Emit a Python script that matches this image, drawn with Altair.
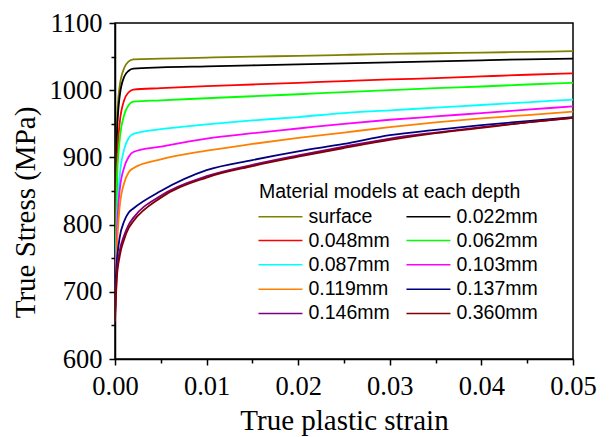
import altair as alt
import pandas as pd

strain = [0.0, 0.0002, 0.0005, 0.001, 0.0015, 0.002, 0.005, 0.01, 0.015, 0.02,
          0.025, 0.03, 0.035, 0.04, 0.045, 0.05]

labels = ["surface", "0.022mm", "0.048mm", "0.062mm", "0.087mm",
          "0.103mm", "0.119mm", "0.137mm", "0.146mm", "0.360mm"]
colors = ["#808000", "#000000", "#FF0000", "#00FF00", "#00FFFF",
          "#FF00FF", "#FF8000", "#000080", "#800080", "#800000"]

surface = [660, 950, 1005, 1033, 1043, 1046, 1047, 1048.5, 1050, 1051, 1052.5, 1054, 1055, 1056, 1057, 1058]
d022 = [660, 930, 990, 1020, 1029, 1032, 1034, 1035.5, 1037, 1038.5, 1040, 1041.5, 1043, 1044.5, 1046, 1047]
d048 = [660, 880, 950, 985, 997, 1001, 1003, 1006, 1008.5, 1011, 1013.5, 1016, 1018, 1020.5, 1023, 1025]
d062 = [660, 860, 925, 963, 978, 983, 985, 988, 991, 994, 997, 1000, 1003, 1005.5, 1008.5, 1011]
d087 = [660, 800, 870, 912, 929, 935, 942, 949, 955, 960, 966, 970, 974, 978, 982, 986]
d103 = [660, 780, 850, 885, 901, 908, 916, 928, 936, 943, 950, 956, 961, 966, 971, 976]
d119 = [660, 760, 825, 862, 878, 884, 897, 910, 920, 929, 937, 945, 952, 958, 963, 968]
d137 = [700, 745, 780, 805, 818, 824, 850, 881, 896, 909, 920, 933, 941, 948, 954, 960]
d146 = [665, 728, 760, 784, 800, 810, 843, 872, 889, 903, 916, 928, 937, 945, 952, 959]
d360 = [655, 720, 752, 778, 795, 805, 840, 870, 887, 901, 914, 926, 936, 944, 952, 959]

series = [surface, d022, d048, d062, d087, d103, d119, d137, d146, d360]

y_major = [600, 700, 800, 900, 1000, 1100]
y_minor = [650, 750, 850, 950, 1050]
x_major = [0.0, 0.01, 0.02, 0.03, 0.04, 0.05]
x_minor = [0.005, 0.015, 0.025, 0.035, 0.045]

rows = []
for lab, vals in zip(labels, series):
    for s, v in zip(strain, vals):
        rows.append({"strain": s, "stress": v, "depth": lab})
df = pd.DataFrame(rows)

serif = "Liberation Serif"
sans = "Liberation Sans"

xscale = alt.Scale(domain=[0, 0.05], nice=False, zero=False)
yscale = alt.Scale(domain=[600, 1100], nice=False, zero=False)

lines = alt.Chart(df).mark_line(strokeWidth=1.8, interpolate="monotone", clip=True).encode(
    x=alt.X("strain:Q", scale=xscale,
            axis=alt.Axis(values=x_major, format=".2f", title="True plastic strain",
                          labelFont=serif, labelFontSize=26.5, labelColor="black",
                          labelFlush=False, labelOverlap=False,
                          titleFont=serif, titleFontSize=29, titleFontWeight="normal",
                          titleColor="black", titlePadding=7, labelPadding=8,
                          tickSize=6, tickWidth=1.5, tickColor="black",
                          domainColor="black", domainWidth=1.5, grid=False)),
    y=alt.Y("stress:Q", scale=yscale,
            axis=alt.Axis(values=y_major, format="d", title="True Stress (MPa)",
                          labelFont=serif, labelFontSize=26.5, labelColor="black",
                          labelFlush=False, labelOverlap=False,
                          titleFont=serif, titleFontSize=29, titleFontWeight="normal",
                          titleColor="black", titleX=-81, titleY=189,
                          titleBaseline="alphabetic", titleAngle=270,
                          labelPadding=7, tickSize=6, tickWidth=1.5, tickColor="black",
                          domainColor="black", domainWidth=1.5, grid=False)),
    color=alt.Color("depth:N", sort=labels,
                    scale=alt.Scale(domain=labels, range=colors),
                    legend=alt.Legend(title="Material models at each depth",
                                      orient="none", legendX=144, legendY=160,
                                      direction="horizontal",
                                      columns=2, symbolType="M-3,0H3",
                                      symbolSize=215, symbolStrokeWidth=1.5,
                                      symbolOffset=11.7,
                                      labelFont=sans, labelFontSize=19.5, labelColor="black",
                                      labelLimit=200, titleLimit=400,
                                      titleFont=sans, titleFontSize=19.5,
                                      titleFontWeight="normal", titleColor="black",
                                      columnPadding=13, rowPadding=3.3, labelOffset=18.3,
                                      titlePadding=4, padding=0)),
    order=alt.Order("strain:Q"),
)

minor_x = alt.Chart(pd.DataFrame({"v": x_minor})).mark_point(opacity=0).encode(
    x=alt.X("v:Q", scale=xscale,
            axis=alt.Axis(values=x_minor, labels=False, title=None, domain=False,
                          tickSize=4, tickWidth=1.5, tickColor="black", grid=False,
                          orient="bottom")))
minor_y = alt.Chart(pd.DataFrame({"v": y_minor})).mark_point(opacity=0).encode(
    y=alt.Y("v:Q", scale=yscale,
            axis=alt.Axis(values=y_minor, labels=False, title=None, domain=False,
                          tickSize=4, tickWidth=1.5, tickColor="black", grid=False,
                          orient="left")))

chart = alt.layer(lines, minor_x, minor_y).resolve_axis(
    x="independent", y="independent"
).properties(
    width=458, height=336,
    autosize=alt.AutoSizeParams(type="none"),
    padding={"left": 115, "top": 23, "right": 37, "bottom": 78},
    background="white",
).configure_view(stroke="black", strokeWidth=1.5)

chart.save("out.html", embed_options={"renderer": "svg", "actions": False})
